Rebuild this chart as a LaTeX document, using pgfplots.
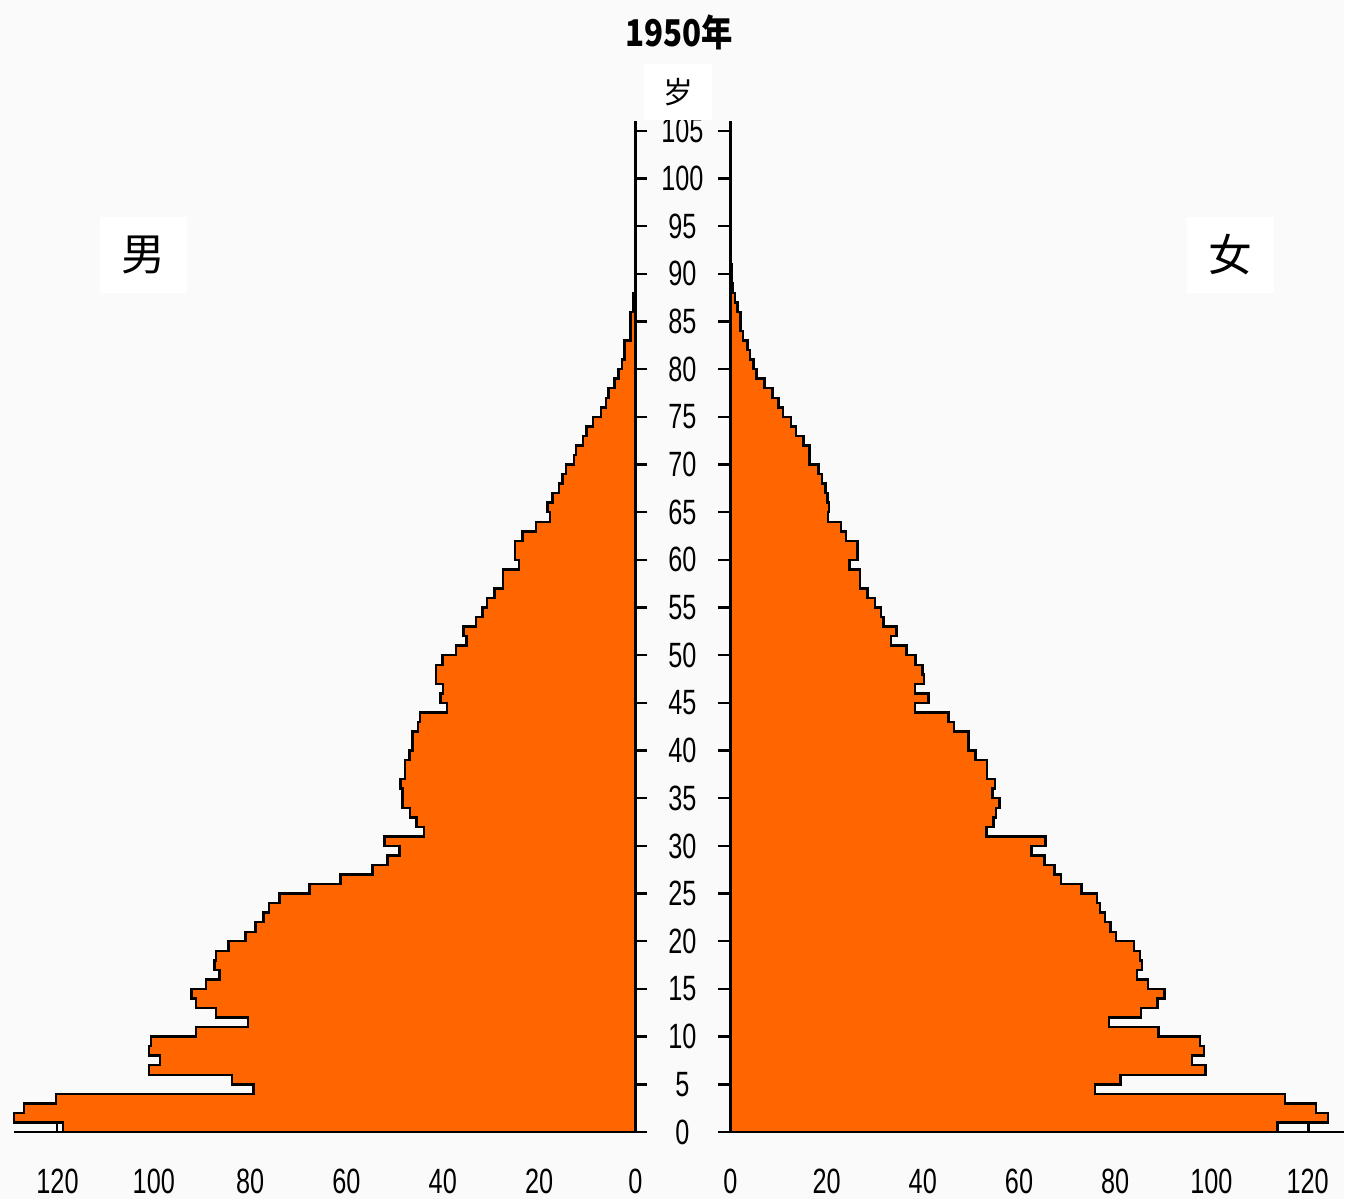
\documentclass[border=0pt]{standalone}
\usepackage{pgfplots}
\pgfplotsset{compat=1.18}
\usepackage{pgfplotstable}
\usepackage{fontspec}
\setmainfont{Liberation Sans}
\newfontfamily\tickfont[FakeStretch=0.72]{Liberation Sans}
\newfontfamily\cjk{Noto Sans CJK SC}
\newfontfamily\titlefont[FakeStretch=0.85]{Noto Sans CJK SC}
\definecolor{bg}{RGB}{250,250,250}
\definecolor{pyr}{RGB}{255,102,0}

% population by age, unit 10,000 people; rows start and end on the age axis
\pgfplotstableread{
age val
0 0
0 118.9
1 129.0
2 127.0
3 120.3
4 79.3
5 83.8
6 101.0
7 98.7
8 101.0
9 100.6
10 91.2
11 80.5
12 87.1
13 91.3
14 92.2
15 89.2
16 86.4
17 87.4
18 87.1
19 84.5
20 81.0
21 78.9
22 77.2
23 76.1
24 73.9
25 67.7
26 61.2
27 54.6
28 51.5
29 49.0
30 52.1
31 43.9
32 45.5
33 46.8
34 48.4
35 48.4
36 48.8
37 47.9
38 47.9
39 46.9
40 46.3
41 46.3
42 45.2
43 44.7
44 39.1
45 40.5
46 40.0
47 41.4
48 41.4
49 40.1
50 37.3
51 35.1
52 35.7
53 33.1
54 31.8
55 30.8
56 29.3
57 27.5
58 27.5
59 24.2
60 25.0
61 25.0
62 23.4
63 20.7
64 17.7
65 18.3
66 17.2
67 15.9
68 15.1
69 14.4
70 12.7
71 12.3
72 10.9
73 10.2
74 8.8
75 7.2
76 6.1
77 5.6
78 4.3
79 3.5
80 2.8
81 2.3
82 2.3
83 1.0
84 1.0
85 1.0
86 0.4
87 0.4
88 0
}\male

\pgfplotstableread{
age val
0 0
0 113.7
1 124.2
2 121.7
3 115.3
4 75.8
5 81.1
6 98.8
7 95.9
8 98.4
9 97.6
10 89.0
11 78.7
12 85.4
13 88.8
14 90.2
15 86.8
16 84.5
17 85.6
18 85.1
19 83.9
20 80.2
21 79.0
22 77.9
23 76.8
24 76.2
25 73.0
26 68.7
27 67.4
28 65.3
29 62.6
30 65.5
31 53.2
32 54.7
33 55.2
34 55.9
35 54.5
36 55.0
37 53.4
38 53.4
39 51.0
40 49.5
41 49.5
42 46.5
43 45.3
44 38.4
45 41.2
46 38.4
47 40.3
48 39.9
49 38.5
50 36.6
51 33.4
52 34.5
53 31.8
54 31.3
55 30.1
56 28.5
57 26.9
58 26.9
59 24.8
60 26.4
61 26.4
62 24.0
63 23.0
64 20.3
65 20.5
66 20.2
67 19.8
68 19.0
69 18.3
70 16.5
71 16.5
72 15.2
73 13.6
74 12.6
75 10.9
76 10.0
77 8.8
78 7.1
79 5.4
80 4.8
81 4.1
82 3.6
83 2.6
84 2.1
85 2.1
86 1.5
87 1.0
88 0.5
89 0.3
90 0.2
91 0
}\female

\pgfplotsset{
  pyramid/.style={
    scale only axis, height=20.232cm,
    ymin=0, ymax=106,
    axis x line*=bottom,
    axis line style={-, line width=1.4pt, black},
    xtick={0,20,...,120}, ytick={0,5,...,105},
    tick align=outside, major tick length=0.24cm,
    tick style={line width=1.4pt, black},
    xtick style={draw=none},
    /pgf/number format/assume math mode=true,
    ticklabel style={font=\tickfont\fontsize{20}{20}\selectfont},
    xticklabel style={anchor=center, yshift=-0.75cm},
    clip=false,
  },
  bars/.style={const plot mark right, fill=pyr, draw=black, line width=1.4pt},
}

\begin{document}
\begin{tikzpicture}
\fill[bg] (0,0) rectangle (26.9,24);

% male
\begin{axis}[pyramid, at={(0.284cm,1.34cm)}, anchor=south west,
  width=12.436cm, xmin=0, xmax=129, x dir=reverse,
  axis y line*=right,
  yticklabel style={anchor=center, xshift=0.7cm}]
  \addplot[bars] table[x=val, y=age] {\male} \closedcycle;
  \addplot[black, line width=1.4pt] coordinates {(120.1,0) (120.1,1)};
\end{axis}

% female
\begin{axis}[pyramid, at={(14.62cm,1.34cm)}, anchor=south west,
  width=12.28cm, xmin=0, xmax=127.5,
  axis y line*=left, yticklabels={}]
  \addplot[bars] table[x=val, y=age] {\female} \closedcycle;
  \addplot[black, line width=1.4pt] coordinates {(120.2,0) (120.2,1)};
\end{axis}

\node[font=\titlefont\bfseries\fontsize{21}{21}\selectfont] at (13.6,23.36) {1950年};
\node[fill=white, minimum width=1.36cm, minimum height=1.12cm, inner sep=0pt,
  font=\cjk\fontsize{17}{17}\selectfont] at (13.58,22.16) {岁};
\node[fill=white, minimum width=1.74cm, minimum height=1.52cm, inner sep=0pt,
  font=\cjk\fontsize{25}{25}\selectfont] at (2.87,18.9) {男};
\node[fill=white, minimum width=1.74cm, minimum height=1.52cm, inner sep=0pt,
  font=\cjk\fontsize{25}{25}\selectfont] at (24.63,18.9) {女};
\end{tikzpicture}
\end{document}
